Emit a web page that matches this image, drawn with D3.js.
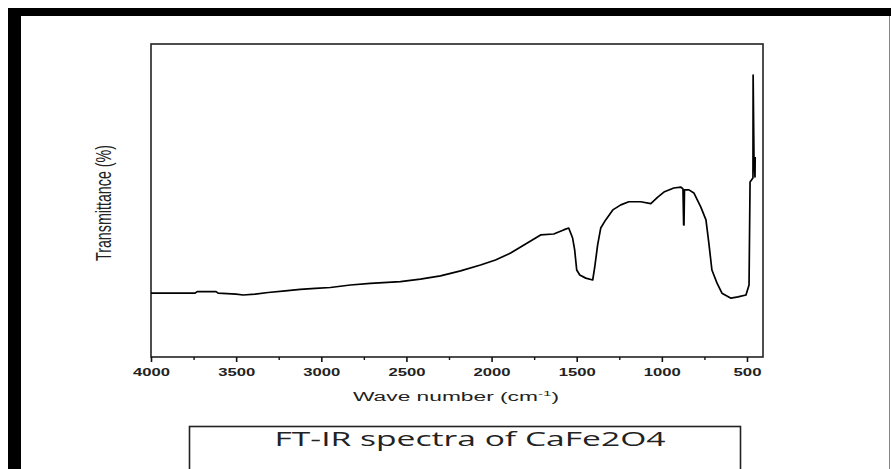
<!DOCTYPE html>
<html>
<head>
<meta charset="utf-8">
<script src="https://cdn.jsdelivr.net/npm/d3@7"></script>
<style>
  html, body { margin: 0; padding: 0; background: #fff; }
  svg { display: block; }
</style>
</head>
<body>
<svg id="chart" width="891" height="469"></svg>
<script>
// spectrum (wavenumber in cm-1, transmittance in arbitrary %)
var waveNumbers = [4000, 3741, 3729, 3618, 3606, 3500, 3459, 3388, 3312, 3212, 3124, 3035, 2947,
  2829, 2712, 2535, 2418, 2300, 2182, 2065, 1977, 1888, 1800, 1712, 1635, 1577, 1547, 1524,
  1512, 1500, 1482, 1447, 1406, 1394, 1377, 1359, 1330, 1288, 1241, 1194, 1124, 1065, 1024,
  988, 930, 888, 876, 872, 870, 867, 865, 841, 812, 771, 741, 724, 706, 676, 647, 594, 553,
  506, 488, 482, 465, 464, 459, 453, 452];
var transmittance = [20.4, 20.4, 20.9, 20.9, 20.4, 20.1, 19.8, 20.1, 20.6, 21.1, 21.6, 21.9, 22.2,
  23.0, 23.5, 24.1, 24.9, 25.9, 27.5, 29.4, 31.0, 33.2, 36.1, 39.0, 39.3, 40.6, 41.2, 38.0,
  34.2, 27.8, 26.2, 25.2, 24.6, 28.8, 35.8, 41.2, 43.8, 47.0, 48.6, 49.6, 49.6, 49.0, 51.1,
  52.7, 54.0, 54.3, 53.7, 42.2, 42.2, 53.4, 53.4, 53.4, 52.4, 47.9, 43.8, 36.4, 27.8, 23.6,
  20.4, 18.8, 19.2, 19.8, 23.0, 55.9, 57.2, 90.1, 63.9, 57.5, 63.9];
var majorTicks = [4000, 3500, 3000, 2500, 2000, 1500, 1000, 500];
var minorTicks = [3750, 3250, 2750, 2250, 1750, 1250, 750];
var titleText = "FT-IR spectra of CaFe2O4";

var svg = d3.select("#chart");
var W = 891, H = 469;

// page frame
svg.append("rect").attr("x", 0).attr("y", 0).attr("width", W).attr("height", H).attr("fill", "#fff");
svg.append("rect").attr("x", 8).attr("y", 8).attr("width", W - 8).attr("height", 8).attr("fill", "#000");
svg.append("rect").attr("x", 8).attr("y", 8).attr("width", 13).attr("height", H - 8).attr("fill", "#000");
svg.append("line").attr("x1", 889.5).attr("x2", 889.5).attr("y1", 16).attr("y2", H)
  .attr("stroke", "#888").attr("stroke-width", 1);

var x = d3.scaleLinear().domain([4000, 406]).range([151, 763]);
var y = d3.scaleLinear().domain([0, 100]).range([357, 44]);

// plot box
svg.append("rect")
  .attr("x", x.range()[0]).attr("y", y.range()[1])
  .attr("width", x.range()[1] - x.range()[0]).attr("height", y.range()[0] - y.range()[1])
  .attr("fill", "none").attr("stroke", "#222").attr("stroke-width", 1.6);

// x axis: major + minor ticks
var gx = svg.append("g").attr("transform", "translate(0," + y.range()[0] + ")");
gx.call(d3.axisBottom(x).tickValues(majorTicks).tickSize(5).tickSizeOuter(0).tickFormat(d3.format("d")));
gx.select(".domain").remove();
gx.selectAll(".tick line").attr("stroke", "#111").attr("stroke-width", 1.6);
gx.selectAll(".tick text")
  .attr("y", 19).attr("dy", 0)
  .attr("fill", "#222")
  .style("font-family", "Liberation Sans, Arial, sans-serif")
  .style("font-size", "10px")
  .style("font-weight", "bold")
  .attr("textLength", function(d) { return d >= 1000 ? 37 : 28; })
  .attr("lengthAdjust", "spacingAndGlyphs");

var gm = svg.append("g").attr("transform", "translate(0," + y.range()[0] + ")");
gm.call(d3.axisBottom(x).tickValues(minorTicks).tickSize(3).tickSizeOuter(0).tickFormat(""));
gm.select(".domain").remove();
gm.selectAll(".tick line").attr("stroke", "#111").attr("stroke-width", 1.4);

// axis titles
var xt = svg.append("text")
  .attr("x", 456).attr("y", 401)
  .attr("text-anchor", "middle")
  .attr("fill", "#222")
  .style("font-family", "Liberation Sans, Arial, sans-serif")
  .style("font-size", "12px")
  .attr("textLength", 206).attr("lengthAdjust", "spacingAndGlyphs");
xt.append("tspan").text("Wave number (cm");
xt.append("tspan").attr("dy", -5).style("font-size", "8px").text("-1");
xt.append("tspan").attr("dy", 5).text(")");

svg.append("text")
  .attr("transform", "translate(111,203) rotate(-90)")
  .attr("text-anchor", "middle")
  .attr("fill", "#222")
  .style("font-family", "Liberation Sans, Arial, sans-serif")
  .style("font-size", "22px")
  .attr("textLength", 116).attr("lengthAdjust", "spacingAndGlyphs")
  .text("Transmittance (%)");

// spectrum
var pts = waveNumbers.map(function(w, i) { return [w, transmittance[i]]; });
svg.append("path")
  .datum(pts)
  .attr("fill", "none")
  .attr("stroke", "#000")
  .attr("stroke-width", 1.7)
  .attr("stroke-linejoin", "round")
  .attr("d", d3.line().x(function(d) { return x(d[0]); }).y(function(d) { return y(d[1]); }));

// caption box
svg.append("rect")
  .attr("x", 189.5).attr("y", 426.5).attr("width", 551).attr("height", 60)
  .attr("fill", "#fff").attr("stroke", "#222").attr("stroke-width", 1.6);
svg.append("text")
  .attr("x", 470).attr("y", 446)
  .attr("text-anchor", "middle")
  .attr("fill", "#222")
  .style("font-family", "Open Sans, Liberation Sans, sans-serif")
  .style("font-size", "20px")
  .attr("textLength", 391).attr("lengthAdjust", "spacingAndGlyphs")
  .text(titleText);
</script>
</body>
</html>
